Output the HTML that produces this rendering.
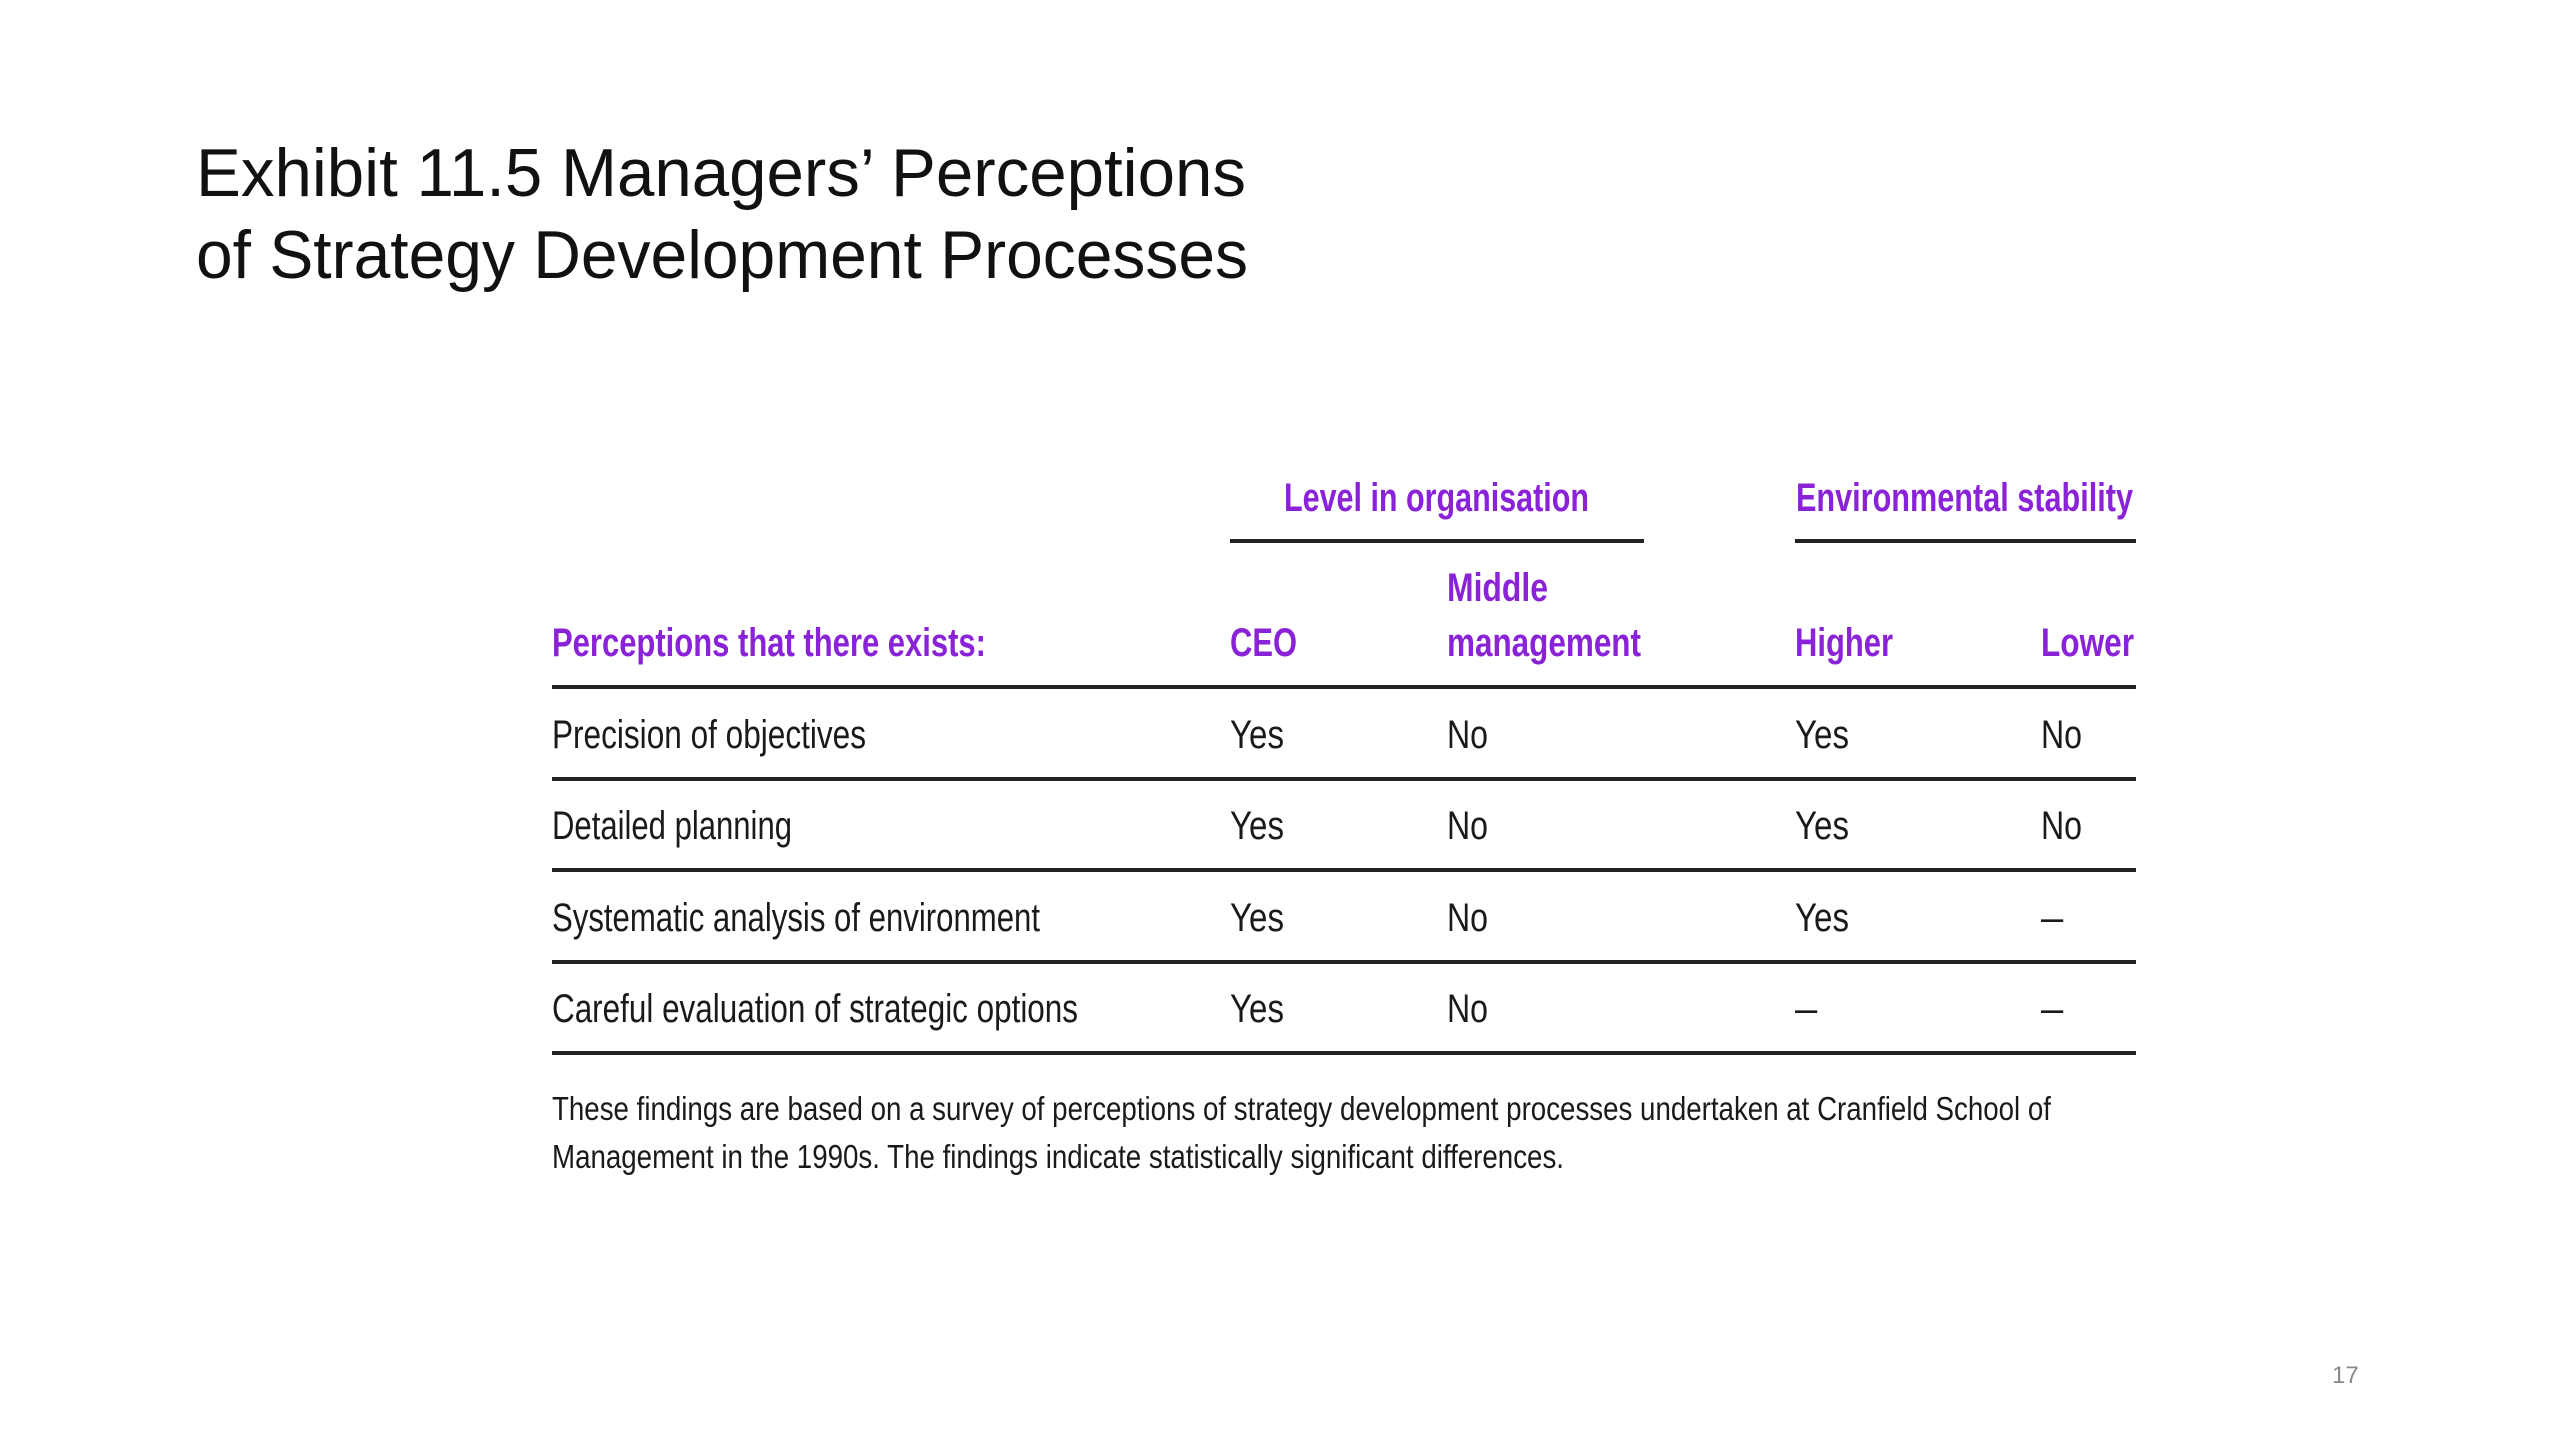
<!DOCTYPE html>
<html><head><meta charset="utf-8"><style>
html,body{margin:0;padding:0;background:#fff;}
svg{display:block;}
.t{font-family:"Liberation Sans",sans-serif;}
.h{fill:#8a22d8;font-weight:bold;font-size:40px;}
.b{fill:#1a1a1a;font-size:40px;}
.f{fill:#1a1a1a;font-size:33px;}
</style></head><body>
<svg width="2560" height="1440" viewBox="0 0 2560 1440" class="t">
<g font-size="68" fill="#111">
<text x="196" y="196" textLength="1050" lengthAdjust="spacingAndGlyphs">Exhibit 11.5 Managers’ Perceptions</text>
<text x="196" y="278" textLength="1052" lengthAdjust="spacingAndGlyphs">of Strategy Development Processes</text>
</g>
<g>
<text class="h" x="1284" y="511" textLength="305" lengthAdjust="spacingAndGlyphs">Level in organisation</text>
<text class="h" x="1796" y="511" textLength="337" lengthAdjust="spacingAndGlyphs">Environmental stability</text>
<rect x="1230" y="539" width="414" height="4" fill="#222"/>
<rect x="1795" y="539" width="341" height="4" fill="#222"/>
<text class="h" x="1447" y="601" textLength="101" lengthAdjust="spacingAndGlyphs">Middle</text>
<text class="h" x="552" y="656" textLength="434" lengthAdjust="spacingAndGlyphs">Perceptions that there exists:</text>
<text class="h" x="1230" y="656" textLength="67" lengthAdjust="spacingAndGlyphs">CEO</text>
<text class="h" x="1447" y="656" textLength="194" lengthAdjust="spacingAndGlyphs">management</text>
<text class="h" x="1795" y="656" textLength="98" lengthAdjust="spacingAndGlyphs">Higher</text>
<text class="h" x="2041" y="656" textLength="93" lengthAdjust="spacingAndGlyphs">Lower</text>
</g>
<g fill="#222">
<rect x="552" y="685" width="1584" height="4"/>
<rect x="552" y="777" width="1584" height="4"/>
<rect x="552" y="868" width="1584" height="4"/>
<rect x="552" y="960" width="1584" height="4"/>
<rect x="552" y="1051" width="1584" height="4"/>
</g>
<g>
<text class="b" x="552" y="748" textLength="314" lengthAdjust="spacingAndGlyphs">Precision of objectives</text>
<text class="b" x="1230" y="748" textLength="54" lengthAdjust="spacingAndGlyphs">Yes</text>
<text class="b" x="1447" y="748" textLength="41" lengthAdjust="spacingAndGlyphs">No</text>
<text class="b" x="1795" y="748" textLength="54" lengthAdjust="spacingAndGlyphs">Yes</text>
<text class="b" x="2041" y="748" textLength="41" lengthAdjust="spacingAndGlyphs">No</text>
</g>
<g>
<text class="b" x="552" y="839" textLength="240" lengthAdjust="spacingAndGlyphs">Detailed planning</text>
<text class="b" x="1230" y="839" textLength="54" lengthAdjust="spacingAndGlyphs">Yes</text>
<text class="b" x="1447" y="839" textLength="41" lengthAdjust="spacingAndGlyphs">No</text>
<text class="b" x="1795" y="839" textLength="54" lengthAdjust="spacingAndGlyphs">Yes</text>
<text class="b" x="2041" y="839" textLength="41" lengthAdjust="spacingAndGlyphs">No</text>
</g>
<g>
<text class="b" x="552" y="931" textLength="488" lengthAdjust="spacingAndGlyphs">Systematic analysis of environment</text>
<text class="b" x="1230" y="931" textLength="54" lengthAdjust="spacingAndGlyphs">Yes</text>
<text class="b" x="1447" y="931" textLength="41" lengthAdjust="spacingAndGlyphs">No</text>
<text class="b" x="1795" y="931" textLength="54" lengthAdjust="spacingAndGlyphs">Yes</text>
<text class="b" x="2041" y="931">–</text>
</g>
<g>
<text class="b" x="552" y="1022" textLength="526" lengthAdjust="spacingAndGlyphs">Careful evaluation of strategic options</text>
<text class="b" x="1230" y="1022" textLength="54" lengthAdjust="spacingAndGlyphs">Yes</text>
<text class="b" x="1447" y="1022" textLength="41" lengthAdjust="spacingAndGlyphs">No</text>
<text class="b" x="1795" y="1022">–</text>
<text class="b" x="2041" y="1022">–</text>
</g>
<g>
<text class="f" x="552" y="1120" textLength="1499" lengthAdjust="spacingAndGlyphs">These findings are based on a survey of perceptions of strategy development processes undertaken at Cranfield School of</text>
<text class="f" x="552" y="1168" textLength="1012" lengthAdjust="spacingAndGlyphs">Management in the 1990s. The findings indicate statistically significant differences.</text>
</g>
<text x="2332" y="1383" font-size="24" fill="#888">17</text>
</svg>
</body></html>
